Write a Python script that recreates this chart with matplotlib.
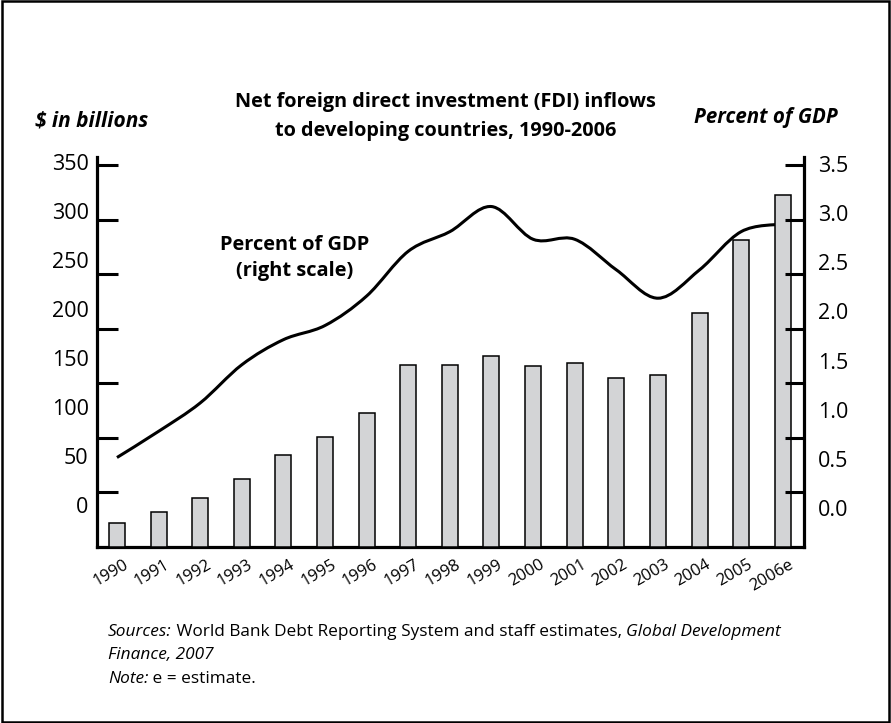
import matplotlib
matplotlib.use("Agg")
import matplotlib.pyplot as plt
import matplotlib.transforms as mtransforms
from matplotlib.path import Path
from matplotlib.patches import PathPatch, Rectangle
import numpy as np

plt.rcParams['font.family'] = ['Open Sans', 'DejaVu Sans']

# data
years = ["1990", "1991", "1992", "1993", "1994", "1995", "1996", "1997", "1998",
         "1999", "2000", "2001", "2002", "2003", "2004", "2005", "2006e"]
fdi_billions = [22, 32, 45, 62, 84, 101, 123, 167, 167, 175, 166, 169, 155, 158, 214, 281, 323]
pct_gdp = [0.82, 1.06, 1.32, 1.67, 1.90, 2.03, 2.30, 2.71, 2.89, 3.12, 2.82, 2.82,
           2.54, 2.28, 2.54, 2.89, 2.96]

left_ticks = [50, 100, 150, 200, 250, 300, 350]
left_labels = [0, 50, 100, 150, 200, 250, 300, 350]
right_ticks = [0.5, 1.0, 1.5, 2.0, 2.5, 3.0, 3.5]
right_labels = [0.0, 0.5, 1.0, 1.5, 2.0, 2.5, 3.0, 3.5]

fig = plt.figure(figsize=(8.91, 7.23), dpi=100)
pos = [97 / 891, 1 - 547 / 723, 707 / 891, 390 / 723]
ax = fig.add_axes(pos)
ax2 = ax.twinx()

x = np.arange(len(years))
ax.bar(x, fdi_billions, width=0.385, color="#d3d4d6", edgecolor="black",
       linewidth=1.1, zorder=3)
ax.set_xlim(-0.48, 16.51)
ax.set_ylim(0, 357.4)
ax2.set_ylim(0, 3.574)


# smooth line through the points (catmull-rom as bezier segments)
def smooth_path(xs, ys):
    pts = np.column_stack([xs, ys]).astype(float)
    verts = [pts[0]]
    codes = [Path.MOVETO]
    n = len(pts)
    for i in range(n - 1):
        p0 = pts[i - 1] if i > 0 else pts[i]
        p1 = pts[i]
        p2 = pts[i + 1]
        p3 = pts[i + 2] if i + 2 < n else pts[i + 1]
        c1 = p1 + (p2 - p0) / 6.0
        c2 = p2 - (p3 - p1) / 6.0
        verts += [c1, c2, p2]
        codes += [Path.CURVE4] * 3
    return Path(verts, codes)


line = PathPatch(smooth_path(x, pct_gdp), facecolor="none", edgecolor="black",
                 linewidth=2.2, transform=ax2.transData, zorder=2, capstyle="butt")
ax.add_patch(line)

for s in ["top", "right"]:
    ax.spines[s].set_visible(False)
for s in ["top", "left", "bottom"]:
    ax2.spines[s].set_visible(False)
ax.spines["left"].set_linewidth(2.3)
ax.spines["bottom"].set_linewidth(2.3)
ax2.spines["right"].set_linewidth(2.3)

ax.set_yticks(left_ticks)
ax.tick_params(axis="y", direction="in", length=15, width=2.2, labelleft=False)
ax2.set_yticks(right_ticks)
ax2.tick_params(axis="y", direction="in", length=14, width=2.2, labelright=False)

ax.set_xticks(x)
ax.set_xticklabels(years, rotation=30, ha="right", va="top", rotation_mode="anchor",
                   fontsize=12)
ax.tick_params(axis="x", length=0, pad=7)
off = mtransforms.ScaledTranslation(6 / 100, 0, fig.dpi_scale_trans)
for lab in ax.get_xticklabels():
    lab.set_transform(lab.get_transform() + off)

# tick labels sit on their own even spacing, as in the original
labL = fig.add_axes(pos, frameon=False)
labL.set_xticks([])
labL.set_ylim(-42.8, 354.7)
labL.set_yticks(left_labels)
labL.set_yticklabels([str(v) for v in left_labels], fontsize=15.5)
labL.tick_params(axis="y", length=0, pad=6)

labR = fig.add_axes(pos, frameon=False)
labR.set_xticks([])
labR.set_ylim(-0.397, 3.571)
labR.yaxis.tick_right()
labR.set_yticks(right_labels)
labR.set_yticklabels(["%.1f" % v for v in right_labels], fontsize=15.5)
labR.tick_params(axis="y", length=0, pad=10)

fig.text(0.5, 1 - 102 / 723, "Net foreign direct investment (FDI) inflows",
         ha="center", va="center", fontsize=14.3, fontweight="bold")
fig.text(0.5, 1 - 131 / 723, "to developing countries, 1990-2006",
         ha="center", va="center", fontsize=14.3, fontweight="bold")
fig.text(35 / 891, 1 - 121 / 723, "$ in billions", ha="left", va="center",
         fontsize=15, fontweight="bold", style="italic")
fig.text(838 / 891, 1 - 118 / 723, "Percent of GDP", ha="right", va="center",
         fontsize=14.8, fontweight="bold", style="italic")
fig.text(295 / 891, 1 - 258 / 723, "Percent of GDP\n(right scale)", ha="center",
         va="center", fontsize=14.4, fontweight="bold", linespacing=1.35)

# source notes with italic pieces
renderer = fig.canvas.get_renderer()
lines = [
    [("Sources:", "italic"), (" World Bank Debt Reporting System and staff estimates, ", "normal"),
     ("Global Development", "italic")],
    [("Finance, 2007", "italic")],
    [("Note:", "italic"), (" e = estimate.", "normal")],
]
ys = [632, 655, 679]
for parts, ypix in zip(lines, ys):
    xpix = 108
    for txt, st in parts:
        t = fig.text(xpix / 891, 1 - ypix / 723, txt, ha="left", va="center",
                     fontsize=12.4, style=st)
        bb = t.get_window_extent(renderer=renderer)
        xpix += bb.width

fig.patches.append(Rectangle((0.002, 0.002), 0.996, 0.996, transform=fig.transFigure,
                             fill=False, edgecolor="black", linewidth=1.8))

fig.savefig("out.png", dpi=100)
